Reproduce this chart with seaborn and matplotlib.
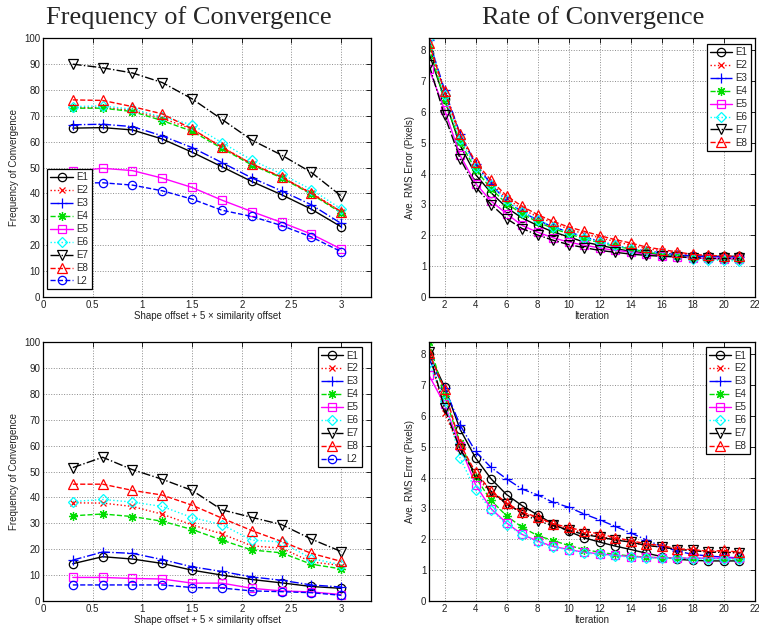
import numpy as np
import pandas as pd
import matplotlib
matplotlib.use("Agg")
import matplotlib.pyplot as plt
from matplotlib.ticker import FormatStrFormatter, MultipleLocator
import seaborn as sns

# ---------------- data ----------------
offsets = [0.3, 0.6, 0.9, 1.2, 1.5, 1.8, 2.1, 2.4, 2.7, 3.0]
iterations = list(range(1, 22))
series_names = ["E1", "E2", "E3", "E4", "E5", "E6", "E7", "E8", "L2"]

# Frequency of convergence (top row, left)
freq_a_E1 = [65.2, 65.4, 64.5, 61.0, 55.9, 50.3, 44.6, 39.5, 33.9, 27.1]
freq_a_E2 = [73.0, 73.2, 72.0, 69.0, 64.8, 58.0, 51.3, 46.3, 40.2, 33.0]
freq_a_E3 = [66.5, 66.7, 65.8, 62.2, 57.7, 51.9, 46.0, 41.0, 35.6, 28.4]
freq_a_E4 = [72.9, 72.9, 71.6, 68.1, 64.0, 57.4, 51.0, 46.0, 39.7, 32.5]
freq_a_E5 = [48.5, 49.7, 48.8, 45.9, 42.3, 37.4, 33.0, 28.8, 24.3, 18.5]
freq_a_E6 = [73.5, 73.8, 72.5, 69.5, 66.5, 59.6, 52.9, 47.5, 41.5, 34.0]
freq_a_E7 = [89.9, 88.5, 86.5, 82.8, 76.5, 68.6, 60.6, 54.8, 48.1, 39.0]
freq_a_E8 = [76.1, 75.9, 73.5, 70.7, 64.9, 57.8, 51.4, 46.3, 40.0, 32.9]
freq_a_L2 = [44.0, 44.1, 43.2, 41.0, 37.8, 33.5, 31.1, 27.6, 23.2, 17.5]

# Frequency of convergence (bottom row, left)
freq_b_E1 = [14.4, 17.1, 16.2, 14.5, 11.9, 10.0, 8.3, 7.0, 5.6, 4.9]
freq_b_E2 = [37.9, 37.8, 36.5, 33.5, 29.4, 25.9, 21.3, 20.4, 15.1, 13.7]
freq_b_E3 = [15.8, 18.9, 18.4, 16.0, 13.2, 11.4, 9.3, 8.0, 6.2, 5.4]
freq_b_E4 = [32.9, 33.6, 32.6, 30.8, 27.6, 23.5, 19.7, 18.6, 14.2, 12.4]
freq_b_E5 = [9.1, 9.1, 8.7, 8.5, 6.9, 6.9, 4.9, 3.9, 3.5, 2.5]
freq_b_E6 = [38.4, 39.2, 38.2, 36.5, 32.2, 29.5, 23.5, 22.8, 16.4, 14.0]
freq_b_E7 = [51.5, 55.5, 50.7, 47.0, 42.7, 35.2, 32.3, 29.5, 23.9, 19.1]
freq_b_E8 = [45.1, 45.1, 42.7, 40.9, 37.0, 32.0, 27.2, 23.0, 18.4, 15.3]
freq_b_L2 = [6.2, 6.2, 6.2, 6.2, 5.2, 5.0, 3.9, 3.6, 3.2, 2.2]

# Rate of convergence (top row, right)
rate_a_E1 = [7.90, 6.43, 4.92, 3.97, 3.38, 2.90, 2.56, 2.32, 2.11, 1.95, 1.78, 1.68, 1.57, 1.48, 1.43, 1.37, 1.35, 1.33, 1.32, 1.32, 1.32]
rate_a_E2 = [8.20, 6.60, 5.20, 4.30, 3.70, 3.20, 2.85, 2.60, 2.40, 2.20, 2.05, 1.92, 1.80, 1.68, 1.57, 1.50, 1.42, 1.36, 1.33, 1.31, 1.30]
rate_a_E3 = [8.32, 6.72, 5.30, 4.32, 3.65, 3.11, 2.76, 2.49, 2.27, 2.11, 1.95, 1.81, 1.68, 1.57, 1.49, 1.43, 1.37, 1.33, 1.31, 1.30, 1.30]
rate_a_E4 = [8.10, 6.38, 5.03, 4.13, 3.51, 3.03, 2.70, 2.43, 2.22, 2.05, 1.89, 1.76, 1.64, 1.56, 1.46, 1.38, 1.33, 1.28, 1.24, 1.22, 1.21]
rate_a_E5 = [7.40, 6.08, 4.60, 3.68, 3.11, 2.70, 2.32, 2.10, 1.92, 1.78, 1.68, 1.59, 1.51, 1.46, 1.38, 1.33, 1.30, 1.27, 1.25, 1.24, 1.24]
rate_a_E6 = [8.40, 6.54, 5.14, 4.22, 3.62, 3.14, 2.76, 2.51, 2.27, 2.11, 1.92, 1.78, 1.68, 1.56, 1.48, 1.41, 1.33, 1.24, 1.19, 1.19, 1.16]
rate_a_E7 = [7.54, 5.89, 4.49, 3.57, 3.00, 2.54, 2.22, 2.01, 1.84, 1.70, 1.60, 1.51, 1.45, 1.39, 1.35, 1.32, 1.30, 1.28, 1.25, 1.25, 1.25]
rate_a_E8 = [8.24, 6.67, 5.28, 4.38, 3.78, 3.28, 2.94, 2.67, 2.45, 2.27, 2.13, 1.99, 1.86, 1.75, 1.62, 1.54, 1.46, 1.38, 1.35, 1.33, 1.32]

# Rate of convergence (bottom row, right)
rate_b_E1 = [8.02, 6.95, 5.57, 4.64, 3.96, 3.45, 3.09, 2.79, 2.50, 2.26, 2.05, 1.91, 1.78, 1.67, 1.55, 1.44, 1.35, 1.32, 1.30, 1.30, 1.30]
rate_b_E2 = [8.05, 6.10, 4.95, 4.05, 3.50, 3.15, 2.85, 2.70, 2.48, 2.35, 2.20, 2.10, 2.00, 1.90, 1.80, 1.75, 1.68, 1.64, 1.60, 1.60, 1.55]
rate_b_E3 = [7.84, 6.92, 5.71, 4.85, 4.33, 3.96, 3.63, 3.44, 3.20, 3.04, 2.82, 2.63, 2.42, 2.21, 1.98, 1.77, 1.62, 1.51, 1.46, 1.42, 1.40]
rate_b_E4 = [8.40, 6.65, 5.14, 4.01, 3.26, 2.76, 2.39, 2.12, 1.96, 1.80, 1.67, 1.58, 1.51, 1.46, 1.42, 1.40, 1.39, 1.38, 1.38, 1.37, 1.37]
rate_b_E5 = [7.32, 6.38, 5.03, 3.77, 2.99, 2.53, 2.16, 1.94, 1.77, 1.67, 1.58, 1.53, 1.48, 1.44, 1.42, 1.40, 1.39, 1.39, 1.39, 1.39, 1.39]
rate_b_E6 = [7.73, 6.49, 4.64, 3.60, 2.96, 2.48, 2.15, 1.91, 1.75, 1.66, 1.56, 1.51, 1.46, 1.43, 1.41, 1.39, 1.38, 1.37, 1.36, 1.36, 1.36]
rate_b_E7 = [8.08, 6.25, 4.93, 4.12, 3.56, 3.15, 2.86, 2.59, 2.45, 2.29, 2.16, 2.07, 1.98, 1.91, 1.80, 1.75, 1.67, 1.64, 1.58, 1.58, 1.56]
rate_b_E8 = [8.05, 6.87, 5.09, 4.17, 3.58, 3.18, 2.88, 2.72, 2.50, 2.39, 2.26, 2.18, 2.05, 1.96, 1.85, 1.80, 1.69, 1.67, 1.61, 1.64, 1.58]

# ---------------- styling ----------------
sns.set_style("white")
plt.rcParams["font.family"] = ["Liberation Sans", "DejaVu Sans"]

GREEN = "#00dd00"
ASTERISK = (8, 2, 0)
STYLES = {
    "E1": dict(color="black", linestyle="-", marker="o", mfc="none", ms=6),
    "E2": dict(color="red", linestyle=":", marker="x", mfc="red", ms=5),
    "E3": dict(color="blue", linestyle="-.", marker="+", mfc="blue", ms=7),
    "E4": dict(color=GREEN, linestyle="--", marker=ASTERISK, mfc=GREEN, ms=6.5),
    "E5": dict(color="magenta", linestyle="-", marker="s", mfc="none", ms=6),
    "E6": dict(color="cyan", linestyle=":", marker="D", mfc="none", ms=5),
    "E7": dict(color="black", linestyle="-.", marker="v", mfc="none", ms=7),
    "E8": dict(color="red", linestyle="--", marker="^", mfc="none", ms=7),
    "L2": dict(color="blue", linestyle="--", marker="o", mfc="none", ms=6),
}

W, H = 759, 630
fig = plt.figure(figsize=(W / 100, H / 100), dpi=100)


def add_axes_px(left, right, top, bottom):
    return fig.add_axes([left / W, 1 - bottom / H, (right - left) / W, (bottom - top) / H])


def draw_panel(ax, x, data, names):
    for name in names:
        st = STYLES[name]
        df = pd.DataFrame({"x": x, "y": data[name]})
        sns.lineplot(data=df, x="x", y="y", ax=ax, color=st["color"],
                     linestyle=st["linestyle"], marker=st["marker"],
                     markersize=st["ms"], markerfacecolor=st["mfc"],
                     markeredgecolor=st["color"], markeredgewidth=0.9,
                     linewidth=1.0, label=name)


def style_axes(ax):
    ax.grid(True, color="0.55", linestyle=":", linewidth=0.7)
    ax.tick_params(direction="in", top=True, right=True, length=3.5, width=0.6,
                   labelsize=7, pad=2, colors="black", labelcolor="#222222")
    for sp in ax.spines.values():
        sp.set_color("black")
        sp.set_linewidth(0.9)
        sp.set_visible(True)


def legend(ax, loc, anchor):
    leg = ax.legend(loc=loc, bbox_to_anchor=anchor, borderaxespad=0, fontsize=7,
                    frameon=True, fancybox=False, framealpha=1, edgecolor="black",
                    handlelength=2.3, handletextpad=0.35, labelspacing=0.3,
                    borderpad=0.35)
    leg.get_frame().set_linewidth(0.9)


freq_a = dict(E1=freq_a_E1, E2=freq_a_E2, E3=freq_a_E3, E4=freq_a_E4, E5=freq_a_E5,
              E6=freq_a_E6, E7=freq_a_E7, E8=freq_a_E8, L2=freq_a_L2)
freq_b = dict(E1=freq_b_E1, E2=freq_b_E2, E3=freq_b_E3, E4=freq_b_E4, E5=freq_b_E5,
              E6=freq_b_E6, E7=freq_b_E7, E8=freq_b_E8, L2=freq_b_L2)
rate_a = dict(E1=rate_a_E1, E2=rate_a_E2, E3=rate_a_E3, E4=rate_a_E4, E5=rate_a_E5,
              E6=rate_a_E6, E7=rate_a_E7, E8=rate_a_E8)
rate_b = dict(E1=rate_b_E1, E2=rate_b_E2, E3=rate_b_E3, E4=rate_b_E4, E5=rate_b_E5,
              E6=rate_b_E6, E7=rate_b_E7, E8=rate_b_E8)

axes_px = {
    "tl": (43, 371, 38, 297),
    "tr": (429, 755, 38, 297),
    "bl": (43, 371, 342, 601),
    "br": (429, 755, 342, 601),
}

TITLE_FONT = ["Liberation Serif", "DejaVu Serif"]

for key, data, which in [("tl", freq_a, "freq"), ("bl", freq_b, "freq"),
                         ("tr", rate_a, "rate"), ("br", rate_b, "rate")]:
    ax = add_axes_px(*axes_px[key])
    if which == "freq":
        draw_panel(ax, offsets, data, series_names)
        ax.set_xlim(0, 3.3)
        ax.set_ylim(0, 100)
        ax.xaxis.set_major_locator(MultipleLocator(0.5))
        ax.yaxis.set_major_locator(MultipleLocator(10))
        ax.xaxis.set_major_formatter(FormatStrFormatter("%g"))
        ax.set_xlabel("Shape offset + 5 \u00d7 similarity offset", fontsize=7,
                      labelpad=1, color="#222222")
        ax.set_ylabel("Frequency of Convergence", fontsize=7, labelpad=4,
                      color="#222222")
    else:
        draw_panel(ax, iterations, data, series_names[:8])
        ax.set_xlim(1, 22)
        ax.set_ylim(0, 8.4)
        ax.set_xticks(list(range(2, 23, 2)))
        ax.set_yticks(list(range(0, 9)))
        ax.set_xlabel("Iteration", fontsize=7, labelpad=1, color="#222222")
        ax.set_ylabel("Ave. RMS Error (Pixels)", fontsize=7, labelpad=4,
                      color="#222222")
    style_axes(ax)
    if key == "tl":
        legend(ax, "lower left", (0.012, 0.03))
        ax.set_title("Frequency of Convergence", fontsize=19, family=TITLE_FONT,
                     x=0.445, pad=10)
    elif key == "tr":
        legend(ax, "upper right", (0.988, 0.977))
        ax.set_title("Rate of Convergence", fontsize=19, family=TITLE_FONT,
                     x=0.505, pad=10)
    elif key == "bl":
        legend(ax, "upper right", (0.973, 0.98))
    else:
        legend(ax, "upper right", (0.985, 0.98))

fig.savefig("out.png", dpi=100)
